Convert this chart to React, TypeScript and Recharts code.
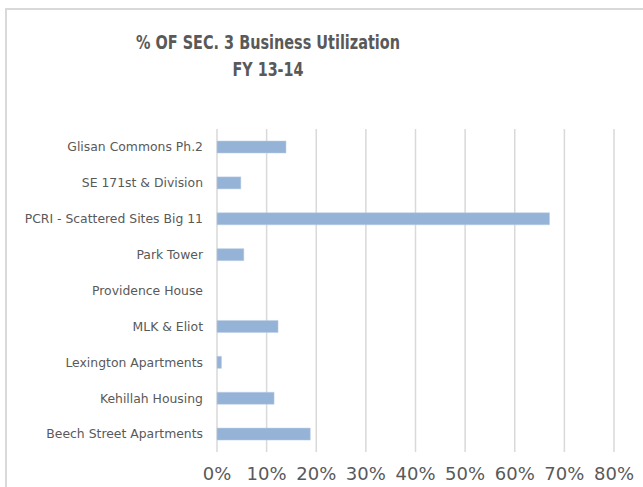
import React from "react";
import { BarChart, Bar, XAxis, YAxis, CartesianGrid } from "recharts";

const categories = [
  "Glisan Commons Ph.2",
  "SE 171st & Division",
  "PCRI - Scattered Sites Big 11",
  "Park Tower",
  "Providence House",
  "MLK & Eliot",
  "Lexington Apartments",
  "Kehillah Housing",
  "Beech Street Apartments",
];
const utilization = [13.9, 4.8, 67.0, 5.4, 0, 12.3, 0.9, 11.5, 18.8];
const xTicks = [0, 10, 20, 30, 40, 50, 60, 70, 80];
const titleLine1 = "% OF SEC. 3 Business Utilization";
const titleLine2 = "FY 13-14";

const data = categories.map((name, i) => ({ name, value: utilization[i] }));

const TEXT = "#595959";
const GRID = "#d9d9d9";

export default function App() {
  return (
    <div
      style={{
        position: "absolute",
        left: 0,
        top: 0,
        width: 643,
        height: 487,
        overflow: "hidden",
        background: "#fff",
      }}
    >
      <div
        style={{
          position: "absolute",
          left: 5,
          top: 8,
          width: 700,
          height: 600,
          border: `2px solid ${GRID}`,
          boxSizing: "border-box",
        }}
      />
      <svg
        width={643}
        height={100}
        style={{ position: "absolute", left: 0, top: 0 }}
      >
        <text
          x={268}
          y={49}
          textAnchor="middle"
          fill={TEXT}
          fontFamily="'Liberation Sans Narrow', 'DejaVu Sans Condensed', 'Liberation Sans', sans-serif"
          fontWeight="bold"
          fontSize={19}
          textLength={264}
          lengthAdjust="spacingAndGlyphs"
        >
          {titleLine1}
        </text>
        <text
          x={268}
          y={76}
          textAnchor="middle"
          fill={TEXT}
          fontFamily="'Liberation Sans Narrow', 'DejaVu Sans Condensed', 'Liberation Sans', sans-serif"
          fontWeight="bold"
          fontSize={19}
          textLength={71}
          lengthAdjust="spacingAndGlyphs"
        >
          {titleLine2}
        </text>
      </svg>
      <div style={{ position: "absolute", left: 0, top: 0 }}>
        <BarChart
          width={643}
          height={487}
          data={data}
          layout="vertical"
          margin={{ top: 129, right: 29, bottom: 0, left: 0 }}
        >
          <CartesianGrid
            horizontal={false}
            vertical={true}
            stroke={GRID}
            strokeWidth={1.5}
          />
          <XAxis
            type="number"
            domain={[0, 80]}
            ticks={xTicks}
            interval={0}
            tickFormatter={(v) => `${v}%`}
            axisLine={false}
            tickLine={false}
            tickSize={0}
            tickMargin={15}
            height={35}
            tick={{ fill: TEXT, fontSize: 18, fontFamily: "'DejaVu Sans', sans-serif" }}
          />
          <YAxis
            type="category"
            dataKey="name"
            width={217}
            axisLine={false}
            tickLine={false}
            tickSize={0}
            tickMargin={14}
            interval={0}
            tick={{ fill: TEXT, fontSize: 12.4, fontFamily: "'DejaVu Sans', sans-serif" }}
          />
          <Bar
            dataKey="value"
            fill="#95b3d7"
            stroke="#b8cde4"
            strokeWidth={0.5}
            barSize={12}
            isAnimationActive={false}
          />
        </BarChart>
      </div>
    </div>
  );
}
